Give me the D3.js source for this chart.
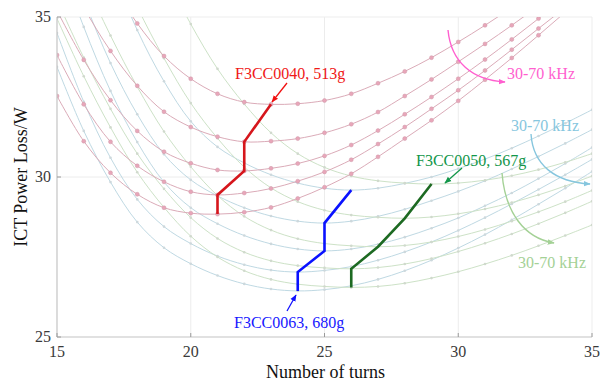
<!DOCTYPE html>
<html><head><meta charset="utf-8">
<script src="https://cdn.jsdelivr.net/npm/d3@7"></script>
<style>
html,body{margin:0;padding:0;background:#fff;}
svg{display:block;}
svg text{font-family:"Liberation Serif","Times New Roman",Times,serif;}
</style></head><body>
<svg id="chart" width="602" height="384"></svg>
<script>
// ---------- data ----------
const turns = [15,16,17,18,19,20,21,22,23,24,25,26,27,28,29,30,31,32,33,34,35];
const xTicks = [15,20,25,30,35];
const yTicks = [25,30,35];

// F3CC0040, 513g (pink family, 30-70 kHz)
const pink1 = [39.5,37.7,36.1,34.8,33.78,33.07,32.6,32.34,32.27,32.29,32.39,32.6,32.93,33.3,33.73,34.22,34.74,35.3,35.9,36.5,37.1];
const pink2 = [36.9,35.3,33.94,32.85,32.04,31.56,31.26,31.1,31.12,31.2,31.38,31.65,32.03,32.53,33.05,33.6,34.16,34.74,35.35,36.0,36.6];
const pink3 = [35.2,33.66,32.4,31.44,30.79,30.43,30.22,30.19,30.27,30.42,30.66,31.0,31.45,31.96,32.5,33.07,33.67,34.3,34.95,35.6,36.3];
const pink4 = [33.81,32.27,31.1,30.35,29.85,29.54,29.44,29.5,29.64,29.87,30.16,30.54,31.03,31.56,32.13,32.71,33.33,33.98,34.64,35.3,36.0];
const pink5 = [32.53,31.12,30.13,29.46,29.04,28.87,28.84,28.9,29.05,29.33,29.68,30.1,30.63,31.2,31.77,32.38,33.04,33.72,34.43,35.15,35.9];

// F3CC0063, 680g (light blue family)
const blue1 = [41.4,38.9,36.6,34.59,32.99,31.74,30.94,30.44,30.07,29.81,29.65,29.59,29.65,29.8,30.0,30.26,30.56,30.9,31.28,31.68,32.1];
const blue2 = [37.86,35.56,33.56,31.96,30.71,29.91,29.41,29.04,28.78,28.62,28.56,28.62,28.77,28.99,29.26,29.55,29.88,30.25,30.64,31.05,31.48];
const blue3 = [37.0,34.69,32.69,31.09,29.84,29.04,28.54,28.17,27.91,27.75,27.69,27.75,27.9,28.12,28.4,28.72,29.1,29.5,29.95,30.42,30.92];
const blue4 = [34.5,32.35,30.6,29.3,28.45,27.92,27.53,27.26,27.09,27.03,27.08,27.2,27.4,27.66,27.97,28.33,28.73,29.16,29.61,30.07,30.55];
const blue5 = [33.44,31.44,29.84,28.59,27.79,27.29,26.92,26.66,26.5,26.44,26.48,26.6,26.8,27.07,27.4,27.78,28.2,28.66,29.15,29.65,30.17];

// F3CC0050, 567g (light green family)
const green1 = [44.8,42.4,40.2,38.2,36.4,34.78,33.38,32.28,31.38,30.73,30.3,30.03,29.88,29.81,29.78,29.81,29.9,30.04,30.23,30.46,30.73];
const green2 = [41.3,39.1,37.1,35.31,33.71,32.31,31.21,30.31,29.66,29.23,28.96,28.81,28.74,28.71,28.75,28.85,29.0,29.2,29.44,29.72,30.03];
const green3 = [38.2,36.22,34.42,32.82,31.42,30.32,29.42,28.77,28.34,28.07,27.92,27.85,27.82,27.86,27.97,28.14,28.36,28.62,28.91,29.23,29.58];
const green4 = [35.53,33.73,32.13,30.73,29.63,28.73,28.08,27.65,27.38,27.23,27.16,27.13,27.17,27.28,27.45,27.67,27.93,28.22,28.54,28.88,29.24];
const green5 = [34.95,33.15,31.55,30.15,29.05,28.15,27.5,27.07,26.8,26.65,26.58,26.55,26.58,26.68,26.84,27.04,27.28,27.55,27.85,28.17,28.5];

// optimum (minimum-loss) paths
const redN = [21,21,22,22,23];
const redL = [28.84,29.44,30.19,31.1,32.27];
const bluN = [24,24,25,25,26];
const bluL = [26.44,27.03,27.69,28.56,29.59];
const grnN = [26,26,27,28,29];
const grnL = [26.55,27.13,27.82,28.71,29.78];

const coreLabels = ["F3CC0040, 513g","F3CC0063, 680g","F3CC0050, 567g"];
const freqLabel = "30-70 kHz";

// ---------- layout ----------
const FONT = "'Liberation Serif','Times New Roman',Times,serif";
const svg = d3.select("#chart");
const L = 57, R = 592, T = 17, B = 337;
const x = d3.scaleLinear().domain([15,35]).range([L,R]);
const y = d3.scaleLinear().domain([25,35]).range([B,T]);

const defs = svg.append("defs");
defs.append("clipPath").attr("id","plotclip").append("rect")
  .attr("x",L).attr("y",T).attr("width",R-L).attr("height",B-T);
function arrowMarker(id,color){
  defs.append("marker").attr("id",id).attr("viewBox","0 0 10 10")
    .attr("refX",9).attr("refY",5).attr("markerWidth",7).attr("markerHeight",7)
    .attr("markerUnits","userSpaceOnUse").attr("orient","auto")
    .append("path").attr("d","M0,1 L10,5 L0,9 Z").attr("fill",color);
}
arrowMarker("ar-red","#f01010");
arrowMarker("ar-blue","#1010ff");
arrowMarker("ar-green","#12964a");
arrowMarker("ar-pink","#ff5fcf");
arrowMarker("ar-lblue","#86c6de");
arrowMarker("ar-lgreen","#a4d196");

// grid
const grid = svg.append("g");
grid.selectAll("line.gx").data(xTicks.slice(1,-1)).join("line")
  .attr("x1",d=>x(d)).attr("x2",d=>x(d)).attr("y1",T).attr("y2",B)
  .attr("stroke","#ececec").attr("stroke-width",1);
grid.selectAll("line.gy").data(yTicks.slice(1,-1)).join("line")
  .attr("y1",d=>y(d)).attr("y2",d=>y(d)).attr("x1",L).attr("x2",R)
  .attr("stroke","#ececec").attr("stroke-width",1);
svg.append("line").attr("x1",L).attr("x2",R).attr("y1",T).attr("y2",T).attr("stroke","#ededed");
svg.append("line").attr("x1",R).attr("x2",R).attr("y1",T).attr("y2",B).attr("stroke","#ededed");

// curves
const line = d3.line().x((d,i)=>x(turns[i])).y(d=>y(d)).curve(d3.curveCatmullRom.alpha(0.5));
const plot = svg.append("g").attr("clip-path","url(#plotclip)");

function family(series, stroke, width, mFill, mStroke, mr){
  series.forEach(s=>{
    plot.append("path").attr("d",line(s)).attr("fill","none")
      .attr("stroke",stroke).attr("stroke-width",width);
  });
  series.forEach(s=>{
    plot.append("g").selectAll("circle").data(s).join("circle")
      .attr("cx",(d,i)=>x(turns[i])).attr("cy",d=>y(d)).attr("r",mr)
      .attr("fill",mFill).attr("stroke",mStroke).attr("stroke-width",0.5);
  });
}
family([blue1,blue2,blue3,blue4,blue5], "#bfd9e3", 1.0, "#cdd8dc", "none", 1.3);
family([green1,green2,green3,green4,green5], "#cde2c7", 1.0, "#d0d9cd", "none", 1.3);
family([pink1,pink2,pink3,pink4,pink5], "#dbabb8", 1.0, "#e8a6b9", "#cf9aaa", 2.0);

// optimum paths
const pline = d3.line().x(d=>x(d[0])).y(d=>y(d[1]));
function optPath(N,Lv,color,w){
  svg.append("path").attr("d",pline(N.map((n,i)=>[n,Lv[i]])))
    .attr("fill","none").attr("stroke",color).attr("stroke-width",w)
    .attr("stroke-linejoin","miter");
}
optPath(redN,redL,"#d6161c",2.6);
optPath(bluN,bluL,"#0a12ff",2.6);
optPath(grnN,grnL,"#1d6a22",2.6);

// axes
const axisColor = "#c4c4c4";
svg.append("line").attr("x1",L).attr("x2",R).attr("y1",B).attr("y2",B).attr("stroke",axisColor).attr("stroke-width",1.2);
svg.append("line").attr("x1",L).attr("x2",L).attr("y1",T).attr("y2",B).attr("stroke",axisColor).attr("stroke-width",1.2);
svg.selectAll("line.xt").data(xTicks).join("line")
  .attr("x1",d=>x(d)).attr("x2",d=>x(d)).attr("y1",B).attr("y2",B-4).attr("stroke","#9a9a9a");
svg.selectAll("line.yt").data(yTicks).join("line")
  .attr("y1",d=>y(d)).attr("y2",d=>y(d)).attr("x1",L).attr("x2",L+4).attr("stroke","#9a9a9a");
svg.selectAll("text.xl").data(xTicks).join("text")
  .attr("x",d=>x(d)).attr("y",B+20).attr("text-anchor","middle").attr("font-family",FONT)
  .attr("font-size",16).attr("fill","#3a3a3a").text(d=>d);
svg.selectAll("text.yl").data(yTicks).join("text")
  .attr("x",L-6).attr("y",d=>y(d)+5).attr("text-anchor","end").attr("font-family",FONT)
  .attr("font-size",16).attr("fill","#3a3a3a").text(d=>d);
svg.append("text").attr("x",(L+R)/2+1).attr("y",378).attr("text-anchor","middle").attr("font-family",FONT)
  .attr("font-size",18).attr("fill","#111").text("Number of turns");
svg.append("text").attr("transform","translate(27,"+((T+B)/2)+") rotate(-90)").attr("font-family",FONT)
  .attr("text-anchor","middle").attr("font-size",18).attr("fill","#111").text("ICT Power Loss/W");

// annotations
function label(txt,px,py,color){
  svg.append("text").attr("x",px).attr("y",py).attr("font-size",16).attr("font-family",FONT)
    .attr("fill",color).text(txt);
}
function arrow(d,color,mk,w){
  svg.append("path").attr("d",d).attr("fill","none").attr("stroke",color)
    .attr("stroke-width",w||1.3).attr("marker-end","url(#"+mk+")");
}
label(coreLabels[0],235,79,"#f01818");
arrow("M287,83 L272,102","#f01010","ar-red");
label(coreLabels[1],234,328,"#1818ff");
arrow("M287,311 L296,295","#1010ff","ar-blue");
label(coreLabels[2],416,166,"#12964a");
arrow("M462,168 L445,183","#12964a","ar-green");

label(freqLabel,507,79,"#ff5fcf");
arrow("M448,30 C451,62 472,80 505,82","#ff5fcf","ar-pink",1.4);
label(freqLabel,511,131,"#86c6de");
arrow("M531,134 C533,165 555,182 590,184","#86c6de","ar-lblue",1.4);
label(freqLabel,518,268,"#a4d196");
arrow("M502,173 C505,212 524,238 554,243","#a4d196","ar-lgreen",1.4);
</script>
</body></html>
